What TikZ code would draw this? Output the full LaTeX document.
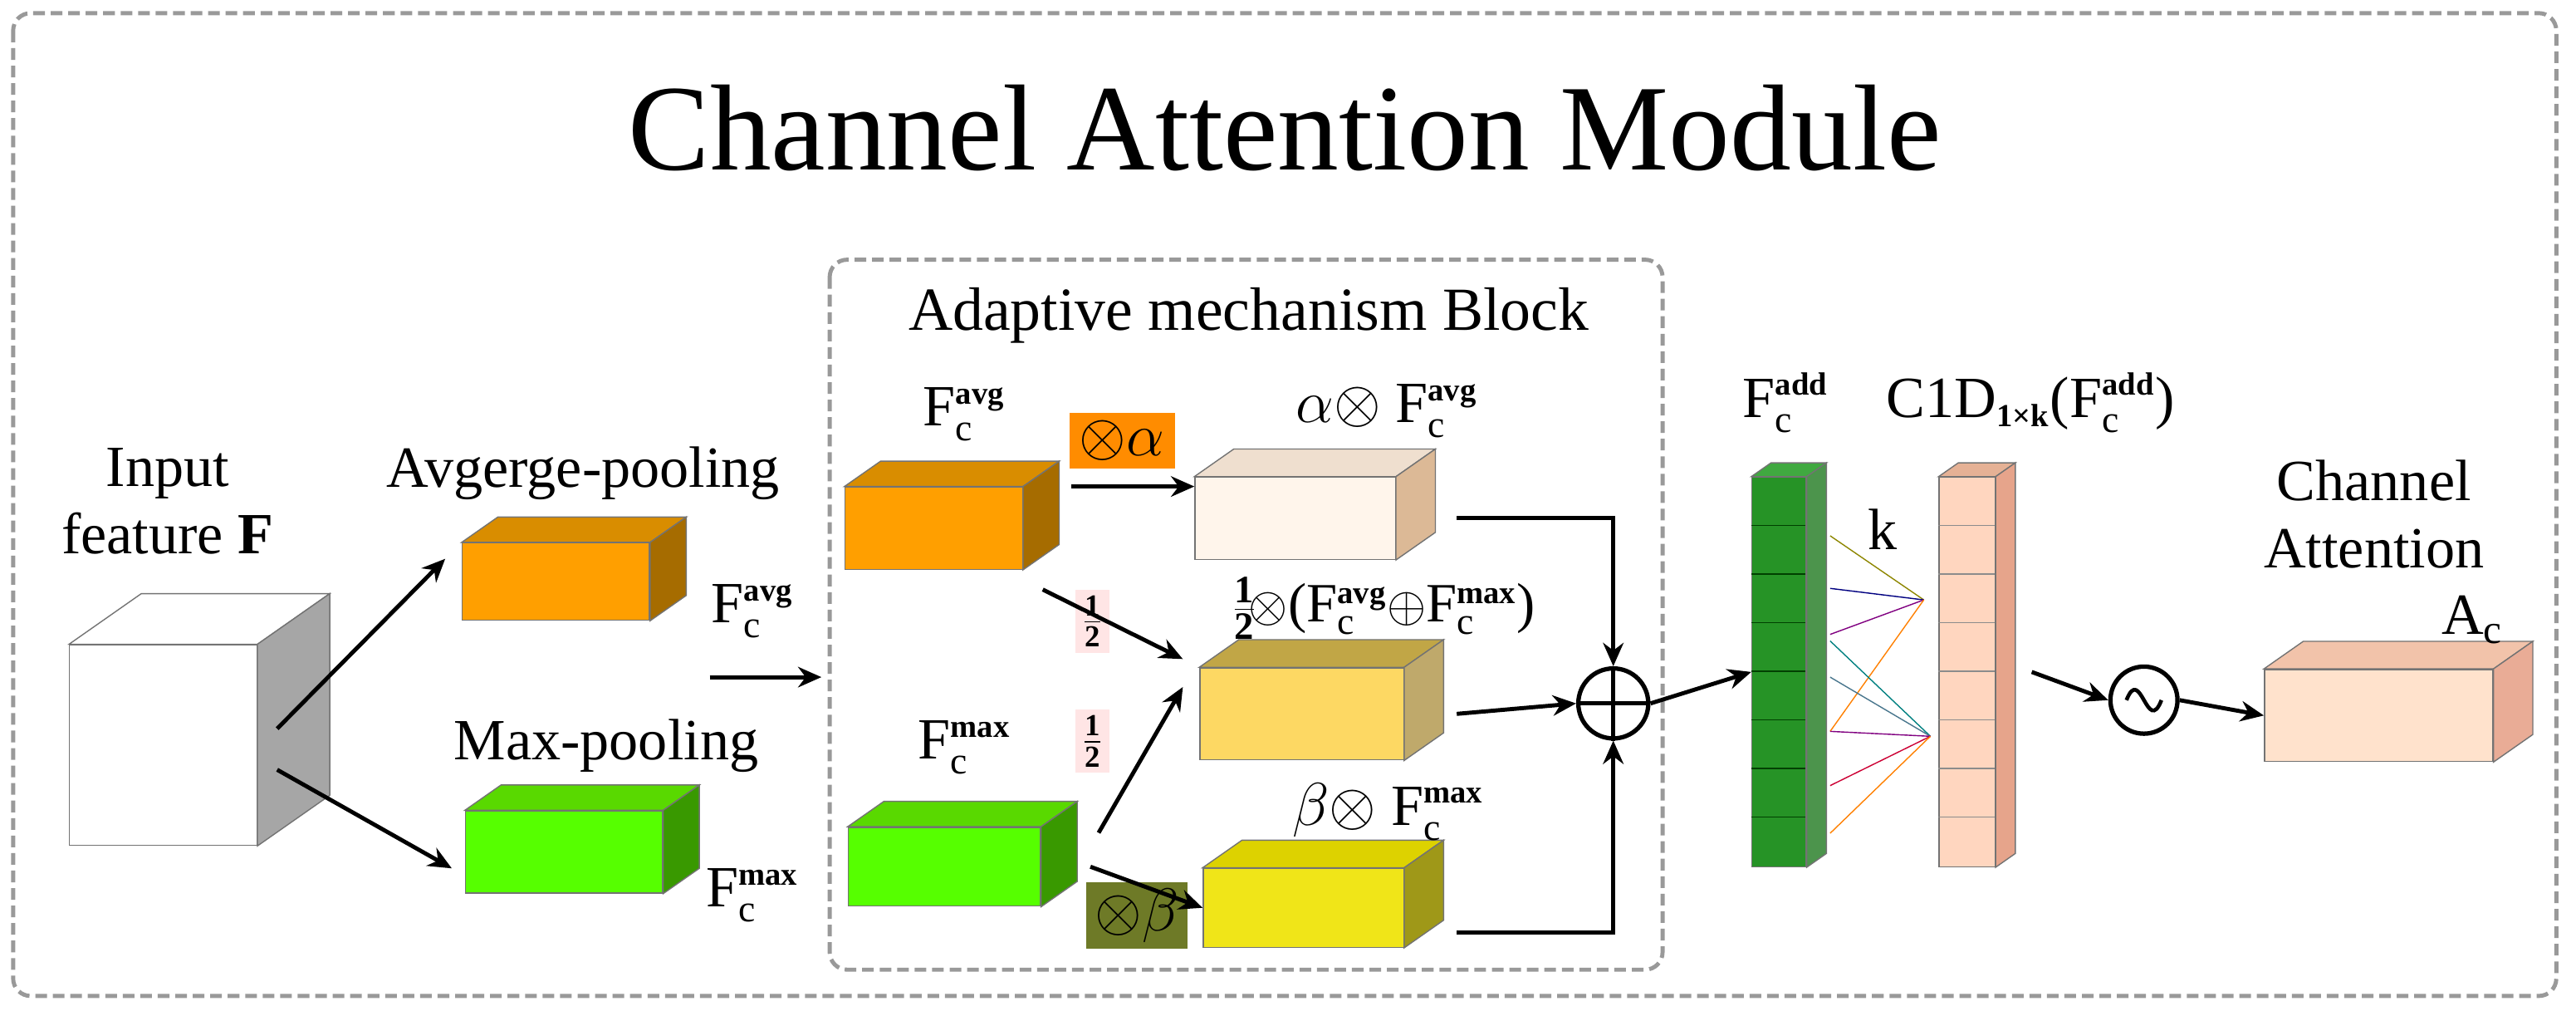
\documentclass[tikz,border=0pt]{standalone}
\usepackage{fontspec}
\setmainfont{Liberation Serif}
\usetikzlibrary{arrows.meta,calc}
\newlength\ux \setlength\ux{0.0198cm}
\newcommand\Fc[1]{F$^{\mbox{\fontsize{11}{11}\selectfont\bfseries #1}}_{\mbox{\fontsize{13}{13}\selectfont c}}$}
\newcommand\cub[9]{%
 \node[draw=black!55,fill=#7,inner sep=0,minimum width=#4\ux,minimum height=#5\ux,anchor=north west] (#1) at (#2,#3) {};
 \filldraw[draw=black!55,fill=#8] (#1.north west) -- ++(#6,-#6*0.7) -- ([shift={(#6,-#6*0.7)}]#1.north east) -- (#1.north east) -- cycle;
 \filldraw[draw=black!55,fill=#9] (#1.north east) -- ++(#6,-#6*0.7) -- ([shift={(#6,-#6*0.7)}]#1.south east) -- (#1.south east) -- cycle;}
\begin{document}
\begin{tikzpicture}[x=0.0198cm,y=-0.0198cm,
 lbl/.style={font=\fontsize{20}{23}\selectfont,inner sep=1pt},
 arr/.style={-{Stealth[length=8pt,width=7pt]},line width=1.4pt},
 dframe/.style={draw=black!40,line width=1.4pt,dash pattern=on 4pt off 2pt,rounded corners=6pt}]
\useasboundingbox (0,0) rectangle (1568,618);
\draw[dframe] (8,8) rectangle (1556,606);
\node[font=\fontsize{42}{46}\selectfont] (title) at (782,78) {Channel Attention Module};
\draw[dframe] (505,158) rectangle (1012,590);
\node[lbl,font=\fontsize{21}{24}\selectfont] (blk) at (760,192) {Adaptive mechanism Block};
% input
\cub{inp}{42}{392}{114}{122}{44}{white}{white}{black!35}
\node[lbl,align=center] (inl) at (102,305) {Input\\feature \textbf{F}};
% pooling
\cub{avg}{281}{330}{114}{47}{22}{orange!75!yellow}{orange!70!yellow!85!black}{orange!70!yellow!65!black}
\node[lbl] (avgl) at (355,288) {Avgerge-pooling};
\cub{max}{283}{493}{120}{50}{22}{green!55!lime}{green!45!lime!85!black}{green!50!lime!60!black}
\node[lbl] (maxl) at (369,454) {Max-pooling};
\draw[arr] ([shift={(12,-10)}]inp.east) -- ([shift={(-10,10)}]avg.north west);
\draw[arr] ([shift={(12,15)}]inp.east) -- ([shift={(-8,10)}]max.west);
\node[lbl] (fa) at (458,372) {\Fc{avg}};
\node[lbl] (fm) at (458,545) {\Fc{max}};
\coordinate (a0) at (432,412);
\coordinate (a1) at (500,412);
\draw[arr] (a0) -- (a1);
% block
\node[lbl] (fa2) at (587,252) {\Fc{avg}};
\node[lbl] (fm2) at (587,455) {\Fc{max}};
\cub{bavg}{514}{296}{108}{50}{22}{orange!75!yellow}{orange!70!yellow!85!black}{orange!70!yellow!65!black}
\cub{bmax}{516}{503}{117}{48}{22}{green!55!lime}{green!45!lime!85!black}{green!50!lime!60!black}
\cub{cr}{727}{290}{122}{50}{24}{orange!8}{brown!25}{brown!55}
\cub{mid}{730}{406}{124}{56}{24}{yellow!55!orange!60}{yellow!60!orange!70!black!90}{yellow!50!orange!60!black!70}
\cub{ol}{732}{528}{122}{48}{24}{yellow!85!olive!90}{yellow!70!olive}{olive!85}
\node[lbl,fill=orange!90!yellow,minimum width=64\ux,minimum height=34\ux] (oa) at (683,268) {$\otimes\alpha$};
\node[lbl,fill=olive!75!green!75!black,minimum width=62\ux,minimum height=40\ux] (ob) at (692,557) {$\otimes\beta$};
\node[fill=red!10,font=\fontsize{15}{17}\selectfont,inner sep=2pt] (h1) at (665,378) {$\frac{\mathbf 1}{\mathbf 2}$};
\node[fill=red!10,font=\fontsize{15}{17}\selectfont,inner sep=2pt] (h2) at (665,451) {$\frac{\mathbf 1}{\mathbf 2}$};
\node[lbl] (cl) at (844,250) {$\alpha\otimes$ \Fc{avg}};
\node[lbl,font=\fontsize{19}{22}\selectfont] (ml) at (842,370) {$\frac{\mathbf 1}{\mathbf 2}\!\otimes$(\Fc{avg}$\oplus$\Fc{max})};
\node[lbl] (ol2) at (845,494) {$\beta\otimes$ \Fc{max}};
\coordinate (b1) at (652,296);
\draw[arr] (b1) -- (cr.west|-b1);
\draw[arr] ([shift={(12,12)}]bavg.south east) -- ([shift={(-10,-5)}]mid.north west);
\draw[arr] ([shift={(35,-45)}]bmax.south east) -- ([shift={(-10,12)}]mid.north west);
\draw[arr] ([xshift=30\ux]bmax.east) -- (ol.west);
\node[draw,circle,line width=1.5pt,minimum size=24pt,inner sep=0] (plus) at (982,428) {};
\draw[line width=1.5pt] (plus.north) -- (plus.south) (plus.west) -- (plus.east);
\draw[arr] ([xshift=37\ux]cr.east) -| (plus.north);
\draw[arr] ([xshift=32\ux]mid.east) -- (plus.west);
\draw[arr] ([shift={(32,15)}]ol.east) -| (plus.south);
% columns
\cub{gc}{1066}{290}{33}{237}{12}{green!50!black!85}{green!55!black!75}{green!40!black!70}
\foreach \i in {1,...,7} \draw[green!25!black] (1066,290+\i*29.6) -- (1099,290+\i*29.6);
\cub{pc}{1180}{290}{34}{237}{12}{red!30!orange!25!white}{red!30!orange!35!white!90!black}{red!30!brown!55}
\foreach \i in {1,...,7} \draw[black!45] (1180,290+\i*29.6) -- (1214,290+\i*29.6);
\draw[arr] (plus.east) -- (gc.west);
\node[lbl] (fadd) at (1087,245) {\Fc{add}};
\node[lbl] (c1d) at (1236,245) {C1D\textsubscript{\fontsize{11}{11}\selectfont\bfseries 1×k}(\Fc{add})};
\node[lbl] (kl) at (1146,322) {k};
\coordinate (t1) at (1171,365); \coordinate (t2) at (1175,448);
\foreach \y/\c in {326/olive,358/blue!50!black,386/violet,445/orange} \draw[\c] (1114,\y) -- (t1);
\foreach \y/\c in {390/teal,412/cyan!50!black,445/violet,478/red!60!violet,507/orange} \draw[\c] (1114,\y) -- (t2);
\node[draw,circle,line width=1.5pt,minimum size=23pt,inner sep=0] (sig) at (1305,426) {};
\draw[line width=1.3pt] ([xshift=-6pt]sig.center) .. controls ([shift={(-2,-22)}]sig.center) and ([shift={(2,22)}]sig.center) .. ([xshift=6pt]sig.center);
\draw[arr] ([xshift=22\ux]pc.east) -- (sig.west);
\cub{ac}{1378}{407}{139}{56}{24}{red!12!orange!20!white}{red!30!orange!30!white!95!black}{red!30!brown!50}
\draw[arr] (sig.east) -- (ac.west);
\node[lbl,align=center] (cal) at (1445,313) {Channel\\Attention};
\node[lbl] (acl) at (1505,377) {A\textsubscript{c}};
\end{tikzpicture}
\end{document}
